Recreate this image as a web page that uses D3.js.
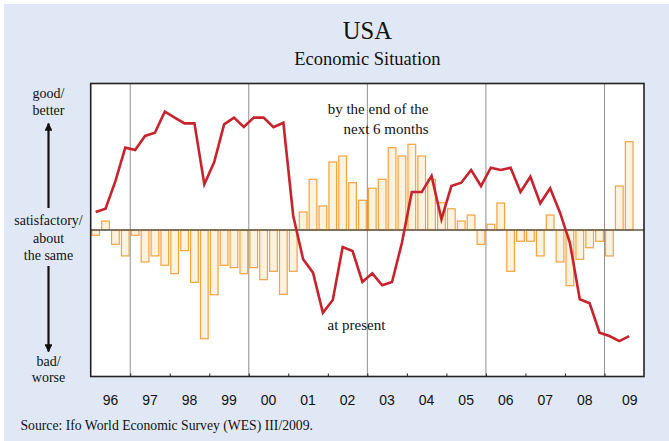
<!DOCTYPE html>
<html lang="en">
<head>
<meta charset="utf-8">
<title>USA Economic Situation</title>
<style>
    body { margin: 0; background: #ffffff; }
    .serif { font-family: "Liberation Serif", "Times New Roman", serif; fill: #111; }
    .tick-label { font-family: "Liberation Sans", Arial, sans-serif; font-size: 14px; fill: #111; }
</style>
</head>
<body>
<script src="https://cdn.jsdelivr.net/npm/d3@7"></script>
<script>
    // quarterly survey, 1996 Q1 .. 2009 Q3
    var startYear = 1996;
    var yearLabels = ["96", "97", "98", "99", "00", "01", "02", "03", "04", "05", "06", "07", "08", "09"];

    // balance "at present" (line)
    var presentValues = [
        12.3, 14.5, 33.4, 56.2, 54.6, 64.2, 66.4, 80.8, 76.7, 72.8, 72.8, 31.2, 46.4, 72.1,
        76.7, 70.3, 76.7, 76.7, 70.1, 73.2, 9.6, -20.0, -29.1, -56.5, -47.8, -11.6, -14.3, -35.5,
        -29.6, -37.7, -35.5, -8.7, 25.9, 25.9, 36.9, 7.3, 30.0, 32.3, 41.0, 30.0, 42.5, 41.0,
        42.5, 25.9, 36.4, 18.2, 28.5, 11.8, -8.7, -47.3, -50.0, -70.1, -72.4, -75.8, -72.4
    ];
    // balance "by the end of the next 6 months" (bars)
    var expectValues = [
        -3.6, 6.1, -9.8, -17.7, -3.6, -21.8, -17.7, -24.1, -29.8, -14.1, -35.7, -74.2, -44.2, -24.1,
        -25.7, -29.8, -25.7, -33.9, -28.2, -43.9, -28.2, 12.3, 34.6, 16.4, 46.4, 50.5, 32.3, 20.3,
        28.5, 34.6, 56.2, 50.5, 58.5, 50.5, 34.6, 18.6, 14.5, 6.1, 10.2, -9.8, 3.9, 18.4,
        -28.2, -7.7, -7.7, -17.7, 10.2, -21.8, -38.0, -20.0, -12.1, -7.7, -17.7, 30.0, 60.3
    ];
    var gridYears = [1997, 2000, 2003, 2006, 2009];

    var W = 669, H = 441;
    var plot = { left: 90.7, right: 644, top: 83.5, bottom: 376.5 };

    var svg = d3.select("body").append("svg")
        .attr("width", W)
        .attr("height", H);

    // blue panel
    svg.append("rect")
        .attr("x", 4).attr("y", 4)
        .attr("width", W - 4).attr("height", H - 4)
        .attr("fill", "#e0e8f5");

    var x = d3.scaleLinear()
        .domain([startYear, startYear + yearLabels.length])
        .range([plot.left, plot.right]);

    var y = d3.scaleLinear()
        .domain([-100, 100])
        .range([plot.bottom, plot.top]);

    function qx(i) { return x(startYear + (i + 0.5) / 4); }
    var barW = (x(startYear + 0.25) - x(startYear)) * 0.78;

    // plot background
    svg.append("rect")
        .attr("x", plot.left).attr("y", plot.top)
        .attr("width", plot.right - plot.left)
        .attr("height", plot.bottom - plot.top)
        .attr("fill", "#ffffff");

    // year grid lines
    svg.append("g").selectAll("line")
        .data(gridYears)
        .enter().append("line")
        .attr("x1", function(d) { return x(d); })
        .attr("x2", function(d) { return x(d); })
        .attr("y1", plot.top)
        .attr("y2", plot.bottom)
        .attr("stroke", "#8f8f8f")
        .attr("stroke-width", 1);

    // bars: expectations
    svg.append("g").selectAll("rect")
        .data(expectValues)
        .enter().append("rect")
        .attr("x", function(d, i) { return qx(i) - barW / 2; })
        .attr("y", function(d) { return y(Math.max(0, d)); })
        .attr("width", barW)
        .attr("height", function(d) { return Math.abs(y(d) - y(0)); })
        .attr("fill", "#fbf3df")
        .attr("stroke", "#f5a23f")
        .attr("stroke-width", 1.2);

    // zero line
    svg.append("line")
        .attr("x1", plot.left).attr("x2", plot.right)
        .attr("y1", y(0)).attr("y2", y(0))
        .attr("stroke", "#5e5247")
        .attr("stroke-width", 1.6);

    // line: present situation
    var line = d3.line()
        .x(function(d, i) { return qx(i); })
        .y(function(d) { return y(d); });

    svg.append("path")
        .datum(presentValues)
        .attr("d", line)
        .attr("fill", "none")
        .attr("stroke", "#c8232c")
        .attr("stroke-width", 2.6)
        .attr("stroke-linejoin", "miter");

    // bottom axis, inner ticks, labels below
    var xAxis = d3.axisBottom(x)
        .tickValues(d3.range(startYear + 1, startYear + yearLabels.length))
        .tickSize(-3)
        .tickFormat("");
    var ax = svg.append("g")
        .attr("transform", "translate(0," + plot.bottom + ")")
        .call(xAxis);
    ax.select(".domain").remove();
    ax.selectAll(".tick line").attr("stroke", "#222").attr("stroke-width", 1);

    // last (partial) year label sits a bit further right in the original
    svg.append("g").selectAll("text")
        .data(yearLabels)
        .enter().append("text")
        .attr("class", "tick-label")
        .attr("x", function(d, i) {
            var off = i === yearLabels.length - 1 ? 0.64 : 0.5;
            return x(startYear + i + off);
        })
        .attr("y", 405)
        .attr("text-anchor", "middle")
        .text(function(d) { return d; });

    // frame
    svg.append("rect")
        .attr("x", plot.left).attr("y", plot.top)
        .attr("width", plot.right - plot.left)
        .attr("height", plot.bottom - plot.top)
        .attr("fill", "none")
        .attr("stroke", "#222")
        .attr("stroke-width", 1.6);

    // titles
    var cx = (plot.left + plot.right) / 2;
    svg.append("text").attr("class", "serif")
        .attr("x", cx).attr("y", 39)
        .attr("text-anchor", "middle")
        .style("font-size", "24.5px")
        .text("USA");
    svg.append("text").attr("class", "serif")
        .attr("x", cx).attr("y", 65)
        .attr("text-anchor", "middle")
        .style("font-size", "18.5px")
        .text("Economic Situation");

    // series annotations
    var ann = svg.append("text").attr("class", "serif")
        .attr("text-anchor", "end")
        .style("font-size", "15px");
    ann.append("tspan").attr("x", 428.5).attr("y", 114).text("by the end of the");
    ann.append("tspan").attr("x", 428.5).attr("y", 133.5).text("next 6 months");

    svg.append("text").attr("class", "serif")
        .attr("x", 327.5).attr("y", 330)
        .style("font-size", "15px")
        .text("at present");

    // left scale description
    var lx = 48.5;
    var leftLabels = [
        { t: "good/", y: 98 }, { t: "better", y: 115 },
        { t: "satisfactory/", y: 224.5 }, { t: "about", y: 242.5 }, { t: "the same", y: 260 },
        { t: "bad/", y: 366 }, { t: "worse", y: 382 }
    ];
    svg.append("g").selectAll("text")
        .data(leftLabels)
        .enter().append("text")
        .attr("class", "serif")
        .attr("x", lx)
        .attr("y", function(d) { return d.y; })
        .attr("text-anchor", "middle")
        .style("font-size", "14px")
        .text(function(d) { return d.t; });

    // arrows
    var defs = svg.append("defs");
    defs.append("marker")
        .attr("id", "arrow")
        .attr("viewBox", "0 0 10 10")
        .attr("refX", 9).attr("refY", 5)
        .attr("markerWidth", 3.6).attr("markerHeight", 3.6)
        .attr("markerUnits", "strokeWidth")
        .attr("orient", "auto")
        .append("path")
        .attr("d", "M0,0L10,5L0,10Z")
        .attr("fill", "#111");

    svg.append("line")
        .attr("x1", lx).attr("x2", lx)
        .attr("y1", 208).attr("y2", 123.5)
        .attr("stroke", "#111").attr("stroke-width", 2.2)
        .attr("marker-end", "url(#arrow)");
    svg.append("line")
        .attr("x1", lx).attr("x2", lx)
        .attr("y1", 266).attr("y2", 351.5)
        .attr("stroke", "#111").attr("stroke-width", 2.2)
        .attr("marker-end", "url(#arrow)");

    // source
    svg.append("text").attr("class", "serif")
        .attr("x", 20.5).attr("y", 429.5)
        .style("font-size", "13.7px")
        .text("Source: Ifo World Economic Survey (WES) III/2009.");
</script>
</body>
</html>
